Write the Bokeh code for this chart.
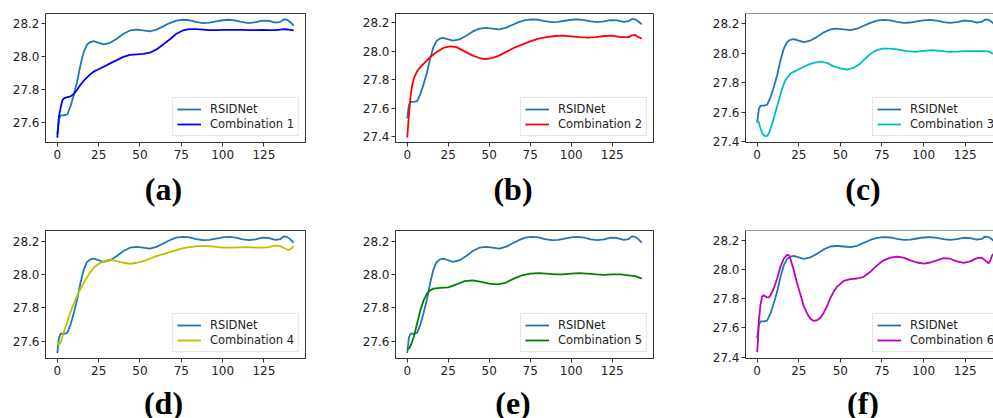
from bokeh.plotting import figure
from bokeh.layouts import column, row
from bokeh.models import Range1d, FixedTicker, NumeralTickFormatter, Span
from bokeh.core.properties import value
from bokeh.embed import file_html
from bokeh.resources import INLINE

# ---------------- data ----------------
x_ticks = [0, 25, 50, 75, 100, 125]
y_ticks = [27.4, 27.6, 27.8, 28.0, 28.2]

rsid_epochs = [0, 1, 2, 4, 6, 8, 10, 12, 14, 16, 18, 20, 22, 25, 28, 32, 36, 40, 44, 48,
               52, 56, 60, 64, 68, 72, 76, 80, 84, 88, 92, 96, 100, 104, 108, 112, 116, 120, 124, 128,
               132, 135, 137, 139, 141, 143]
rsid_psnr = [27.53, 27.62, 27.645, 27.645, 27.65, 27.70, 27.77, 27.85, 27.95, 28.03,
             28.075, 28.09, 28.095, 28.085, 28.075, 28.085, 28.11, 28.14, 28.16, 28.165,
             28.16, 28.155, 28.165, 28.185, 28.205, 28.22, 28.225, 28.222, 28.212, 28.205,
             28.207, 28.215, 28.222, 28.225, 28.22, 28.21, 28.205, 28.21, 28.22, 28.218,
             28.207, 28.212, 28.228, 28.225, 28.21, 28.19]

c1_epochs = [0, 1, 2, 3, 4, 6, 8, 10, 12, 14, 16, 18, 20, 22, 25, 28, 32, 36, 40, 44,
             48, 52, 56, 60, 64, 68, 72, 76, 80, 84, 88, 92, 96, 100, 104, 108, 112, 116, 120, 124,
             128, 132, 135, 137, 139, 141, 143]
c1_psnr = [27.51, 27.64, 27.69, 27.735, 27.748, 27.755, 27.76, 27.775, 27.80, 27.83,
           27.855, 27.875, 27.895, 27.91, 27.925, 27.94, 27.96, 27.98, 28.0, 28.012,
           28.015, 28.018, 28.025, 28.045, 28.075, 28.105, 28.14, 28.16, 28.168, 28.168,
           28.165, 28.162, 28.162, 28.163, 28.164, 28.164, 28.163, 28.162, 28.162, 28.163,
           28.162, 28.162, 28.165, 28.168, 28.166, 28.163, 28.16]

c2_epochs = [0, 1, 2, 3, 4, 6, 8, 10, 12, 14, 18, 22, 26, 30, 35, 40, 45, 48, 52, 56,
             60, 65, 70, 75, 80, 85, 90, 95, 100, 105, 110, 115, 120, 125, 130, 135, 137, 139, 141, 143]
c2_psnr = [27.395, 27.55, 27.68, 27.76, 27.81, 27.86, 27.89, 27.913, 27.935, 27.96,
           27.995, 28.024, 28.035, 28.03, 28.0, 27.97, 27.95, 27.945, 27.955, 27.97,
           27.995, 28.024, 28.047, 28.07, 28.09, 28.10, 28.108, 28.11, 28.106, 28.10,
           28.097, 28.10, 28.108, 28.11, 28.10, 28.10, 28.113, 28.115, 28.10, 28.09]

c3_epochs = [0, 1, 2, 3, 4, 5, 6, 7, 9, 11, 13, 15, 17, 20, 23, 26, 30, 34, 38, 42,
             46, 50, 54, 58, 62, 66, 70, 75, 80, 85, 90, 95, 100, 105, 110, 115, 120, 125, 130, 135,
             139, 141, 143]
c3_psnr = [27.55, 27.53, 27.49, 27.46, 27.445, 27.438, 27.44, 27.456, 27.52, 27.60,
           27.68, 27.76, 27.817, 27.862, 27.88, 27.896, 27.918, 27.934, 27.943, 27.934,
           27.91, 27.896, 27.889, 27.90, 27.93, 27.975, 28.01, 28.03, 28.03, 28.024,
           28.013, 28.008, 28.015, 28.02, 28.015, 28.008, 28.01, 28.013, 28.013, 28.013,
           28.012, 28.0, 27.99]

c4_epochs = [0, 1, 2, 3, 5, 8, 10, 13, 16, 19, 22, 25, 28, 32, 36, 40, 44, 48, 52, 56,
             60, 65, 70, 75, 80, 85, 90, 95, 100, 105, 110, 115, 120, 125, 128, 132, 135, 138, 140, 142,
             143]
c4_psnr = [27.596, 27.58, 27.59, 27.626, 27.686, 27.776, 27.825, 27.895, 27.95, 28.0,
           28.04, 28.064, 28.078, 28.088, 28.08, 28.07, 28.064, 28.07, 28.08, 28.094,
           28.11, 28.124, 28.14, 28.154, 28.164, 28.17, 28.17, 28.166, 28.16, 28.16,
           28.162, 28.164, 28.16, 28.16, 28.164, 28.172, 28.168, 28.154, 28.146, 28.158,
           28.17]

c5_epochs = [0, 1, 2, 4, 6, 8, 10, 12, 14, 16, 20, 25, 30, 35, 40, 45, 50, 55, 60, 65,
             70, 75, 80, 85, 90, 95, 100, 105, 110, 115, 120, 125, 130, 135, 139, 143]
c5_psnr = [27.556, 27.556, 27.572, 27.626, 27.706, 27.785, 27.845, 27.885, 27.905, 27.915,
           27.92, 27.923, 27.94, 27.96, 27.965, 27.955, 27.945, 27.94, 27.95, 27.975,
           27.995, 28.005, 28.008, 28.005, 28.0, 28.0, 28.005, 28.008, 28.005, 28.0,
           27.998, 28.0, 28.0, 27.995, 27.99, 27.975]

c6_epochs = [0, 0.5, 1, 2, 3, 4, 6, 7, 8, 10, 12, 14, 16, 18, 19, 20, 22, 24, 26, 28,
             30, 32, 34, 36, 38, 40, 42, 44, 46, 48, 52, 56, 60, 64, 68, 72, 76, 80, 84, 88,
             92, 96, 100, 104, 108, 112, 116, 120, 124, 128, 132, 135, 137, 139, 140, 141, 142]
c6_psnr = [27.434, 27.51, 27.65, 27.76, 27.817, 27.824, 27.81, 27.81, 27.824, 27.873,
           27.94, 28.02, 28.076, 28.103, 28.1, 28.076, 27.997, 27.907, 27.83, 27.75,
           27.70, 27.664, 27.648, 27.653, 27.67, 27.705, 27.75, 27.806, 27.85, 27.884,
           27.923, 27.936, 27.94, 27.952, 27.986, 28.03, 28.065, 28.083, 28.09, 28.083,
           28.065, 28.05, 28.042, 28.05, 28.065, 28.08, 28.076, 28.058, 28.047, 28.058,
           28.08, 28.083, 28.065, 28.045, 28.06, 28.095, 28.11]

comb_names = ["Combination 1", "Combination 2", "Combination 3",
              "Combination 4", "Combination 5", "Combination 6"]
comb_epochs = [c1_epochs, c2_epochs, c3_epochs, c4_epochs, c5_epochs, c6_epochs]
comb_psnr = [c1_psnr, c2_psnr, c3_psnr, c4_psnr, c5_psnr, c6_psnr]
captions_top = ["(a)", "(b)", "(c)"]
captions_bottom = ["(d)", "(e)", "(f)"]

# ---------------- styling / layout ----------------
rsid_color = "#1f77b4"
comb_colors = ["#0000ff", "#ff0000", "#00bfbf", "#bfbf00", "#008000", "#bf00bf"]
spine = "#333333"
tick_font = "DejaVu Sans"
caption_centers = [163.0, 512.5, 862.5]   # screen px

# per panel: (width, height, border l, r, t, b, x_end, y_start, y_end, cut)
geom = [
    (338, 168, 45, 33, 13, 26, 150.15, 27.48, 28.263, False),
    (330, 168, 57, 15, 13, 26, 150.15, 27.36, 28.266, False),
    (325, 168, 77, 0, 13, 26, 142.0, 27.395, 28.268, True),
    (338, 171, 45, 33, 17, 26, 150.15, 27.497, 28.263, False),
    (330, 171, 57, 15, 17, 26, 150.15, 27.497, 28.263, False),
    (325, 171, 77, 0, 17, 26, 142.0, 27.39, 28.27, True),
]


def make_panel(i):
    w, h, bl, br, bt, bb, x_end, y0, y1, cut = geom[i]
    x_start = -7.0 if cut else -7.15
    p = figure(width=w, height=h, x_range=Range1d(x_start, x_end), y_range=Range1d(y0, y1),
               output_backend="svg", toolbar_location=None,
               min_border_left=bl, min_border_right=br, min_border_top=bt, min_border_bottom=bb,
               background_fill_color="white", border_fill_color="white")
    p.grid.visible = False
    if cut:
        p.outline_line_color = None
        p.add_layout(Span(location=y1, dimension="width", line_color=spine, line_width=1))
    else:
        p.outline_line_color = spine
        p.outline_line_width = 1
        p.outline_line_alpha = 1

    p.line(rsid_epochs, rsid_psnr, line_color=rsid_color, line_width=1.8, legend_label="RSIDNet")
    p.line(comb_epochs[i], comb_psnr[i], line_color=comb_colors[i], line_width=1.8,
           legend_label=comb_names[i])

    for ax in (p.xaxis[0], p.yaxis[0]):
        ax.axis_line_color = spine
        ax.major_tick_line_color = spine
        ax.minor_tick_line_color = None
        ax.major_tick_out = 4
        ax.major_tick_in = 0
        ax.major_label_text_font = tick_font
        ax.major_label_text_font_size = "12px"
        ax.major_label_text_color = "#222222"
    p.xaxis.ticker = FixedTicker(ticks=x_ticks)
    p.xaxis.formatter = NumeralTickFormatter(format="0")
    p.xaxis.major_label_standoff = 3
    p.yaxis.ticker = FixedTicker(ticks=y_ticks)
    p.yaxis.formatter = NumeralTickFormatter(format="0.0")
    p.yaxis.major_label_standoff = 2

    lg = p.legend[0]
    if cut:
        lg.location = (127, 6)
    else:
        lg.location = "bottom_right"
        lg.margin = 6
    lg.label_text_font = tick_font
    lg.label_text_font_size = "11.5px"
    lg.label_text_color = "#222222"
    lg.border_line_color = "#cccccc"
    lg.border_line_width = 1
    lg.background_fill_alpha = 0.8
    lg.padding = 4
    lg.spacing = 1
    lg.glyph_width = 24
    lg.glyph_height = 12
    lg.label_height = 12
    lg.label_standoff = 9
    return p


def make_caption_strip(h, texts, top_from_bottom):
    s = figure(width=993, height=h, x_range=Range1d(0, 993), y_range=Range1d(0, h),
               output_backend="svg", toolbar_location=None,
               min_border_left=0, min_border_right=0, min_border_top=0, min_border_bottom=0,
               background_fill_color="white", border_fill_color="white")
    s.axis.visible = False
    s.grid.visible = False
    s.outline_line_color = None
    s.text(x=caption_centers, y=[top_from_bottom] * len(texts), text=texts,
           text_font=value("Liberation Serif"), text_font_style="bold",
           text_font_size="32px", text_color="black",
           text_align="center", text_baseline="top")
    return s


panels = [make_panel(i) for i in range(6)]
strip1 = make_caption_strip(45, captions_top, 42.5)
strip2 = make_caption_strip(34, captions_bottom, 33.9)
layout = column(row(panels[0], panels[1], panels[2]), strip1,
                row(panels[3], panels[4], panels[5]), strip2)

open("out.html", "w").write(file_html(layout, INLINE))
